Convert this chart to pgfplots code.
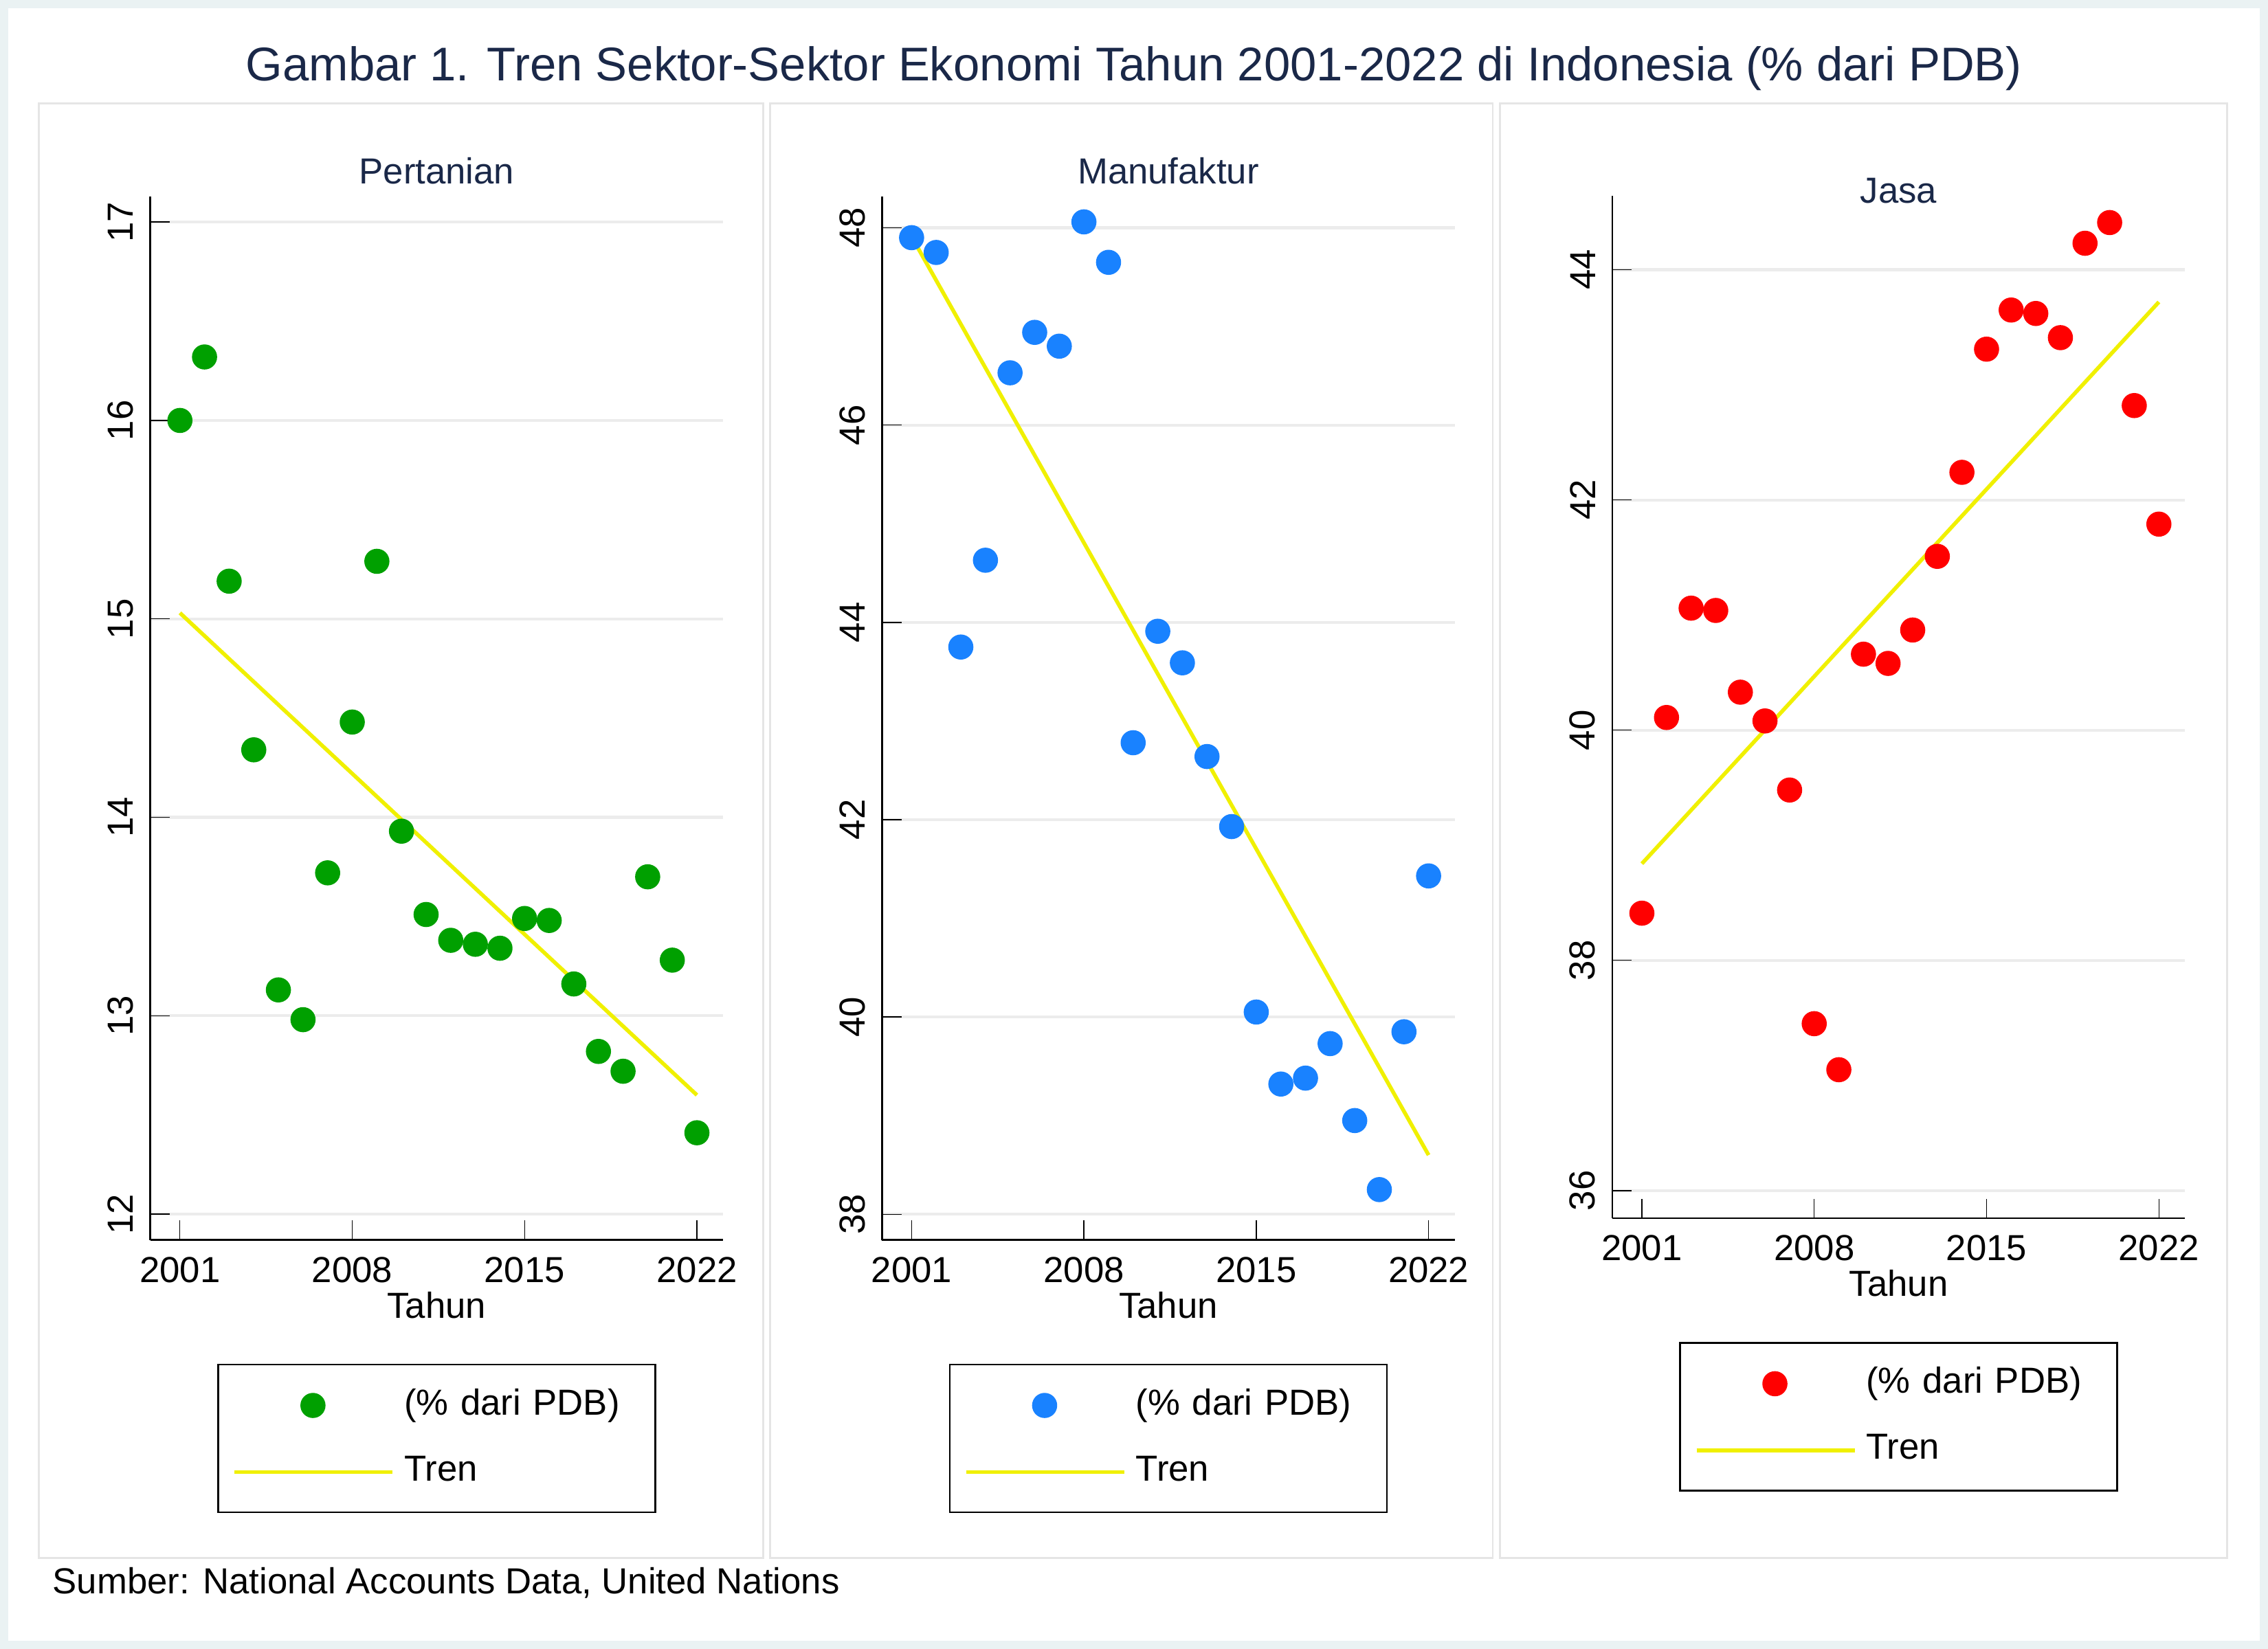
\documentclass[border=0pt]{standalone}
\usepackage{pgfplots}
\pgfplotsset{compat=1.18}
\usepackage{fontspec}
\setmainfont{Liberation Sans}
\definecolor{bg}{RGB}{234,242,243}
\definecolor{navy}{RGB}{26,40,72}
\definecolor{pg}{RGB}{0,160,0}
\definecolor{pb}{RGB}{25,130,255}
\definecolor{pr}{RGB}{255,0,0}
\definecolor{ty}{RGB}{240,240,0}
\pgfplotsset{
 myax/.style={scale only axis,width=4.166cm,
  axis x line*=bottom, axis y line*=left,
  xmin=1999.8,xmax=2023.06,xtick={2001,2008,2015,2022},
  x tick label style={/pgf/number format/1000 sep={}},
  yticklabel style={rotate=90,anchor=south,/pgf/number format/fixed},
  ymajorgrids, grid style={gray!15,line width=0.6pt},
  tick style={black}, major tick length=4pt,
  tick label style={font=\fontsize{7.5}{9}\selectfont},
  /pgf/number format/assume math mode=true,
  xlabel={Tahun}, xlabel style={font=\fontsize{7.5}{9}\selectfont,yshift=5pt},
  title style={font=\fontsize{7.5}{9}\selectfont,text=navy,yshift=-7pt},
  legend style={at={(0.5,0)},anchor=north,yshift=-0.9cm,draw=black,fill=white,
   font=\fontsize{7.5}{9}\selectfont,inner xsep=3pt,inner ysep=3pt,row sep=3pt,
   nodes={text width=1.65cm,align=left}},
  legend cell align=left,
  legend image code/.code={\draw[##1,line width=0.8pt] (0cm,0cm)--(1.15cm,0cm);},
 },
 dots/.style={only marks,mark=*,mark size=2.4pt,color=#1,mark options={draw=#1,fill=#1},
  legend image code/.code={\path (0cm,0cm) (1.15cm,0cm); \fill[#1] (0.57cm,0cm) circle (2.4pt);}},
 trend/.style={ty,line width=0.8pt,no marks}
}
\begin{document}
\begin{tikzpicture}
\fill[bg] (0,0) rectangle (16.5,12);
\fill[white] (0.06,0.06) rectangle (16.44,11.94);
\foreach \a/\b in {27/528,533/1033,1038/1541}{
 \draw[gray!20] (\a*0.01052,{(1140-70)*0.01052}) rectangle (\b*0.01052,{(1140-1077)*0.01052});}
\node[text=navy,font=\fontsize{9.8}{12}\selectfont] at (8.25,{(1140-46)*0.01052}) {Gambar 1. Tren Sektor-Sektor Ekonomi Tahun 2001-2022 di Indonesia (\% dari PDB)};
\node[anchor=west,font=\fontsize{7.5}{9}\selectfont] at (0.26,{(1140-1094)*0.01052}) {Sumber: National Accounts Data, United Nations};

\begin{axis}[myax,at={(1.094cm,2.977cm)},height=7.595cm,ymin=11.87,ymax=17.13,ytick={12,13,14,15,16,17},title={Pertanian}]
\addplot[dots=pg] coordinates {(2001,16.0)(2002,16.32)(2003,15.19)(2004,14.34)(2005,13.13)(2006,12.98)(2007,13.72)(2008,14.48)(2009,15.29)(2010,13.93)(2011,13.51)(2012,13.38)(2013,13.36)(2014,13.34)(2015,13.49)(2016,13.48)(2017,13.16)(2018,12.82)(2019,12.72)(2020,13.70)(2021,13.28)(2022,12.41)};
\addlegendentry{(\% dari PDB)}
\addplot[trend] coordinates {(2001,15.03)(2022,12.6)};
\addlegendentry{Tren}
\end{axis}

\begin{axis}[myax,at={(6.417cm,2.977cm)},height=7.595cm,ymin=37.74,ymax=48.32,ytick={38,40,42,44,46,48},title={Manufaktur}]
\addplot[dots=pb] coordinates {(2001,47.90)(2002,47.75)(2003,43.75)(2004,44.63)(2005,46.53)(2006,46.94)(2007,46.80)(2008,48.06)(2009,47.65)(2010,42.78)(2011,43.91)(2012,43.59)(2013,42.64)(2014,41.93)(2015,40.05)(2016,39.32)(2017,39.38)(2018,39.73)(2019,38.95)(2020,38.25)(2021,39.85)(2022,41.43)};
\addlegendentry{(\% dari PDB)}
\addplot[trend] coordinates {(2001,47.91)(2022,38.6)};
\addlegendentry{Tren}
\end{axis}

\begin{axis}[myax,at={(11.73cm,3.135cm)},height=7.438cm,ymin=35.76,ymax=44.64,ytick={36,38,40,42,44},title={Jasa},title style={yshift=-4pt}]
\addplot[dots=pr] coordinates {(2001,38.41)(2002,40.11)(2003,41.06)(2004,41.04)(2005,40.33)(2006,40.08)(2007,39.48)(2008,37.45)(2009,37.05)(2010,40.66)(2011,40.58)(2012,40.87)(2013,41.51)(2014,42.24)(2015,43.31)(2016,43.65)(2017,43.62)(2018,43.41)(2019,44.23)(2020,44.41)(2021,42.82)(2022,41.79)};
\addlegendentry{(\% dari PDB)}
\addplot[trend] coordinates {(2001,38.84)(2022,43.72)};
\addlegendentry{Tren}
\end{axis}
\end{tikzpicture}
\end{document}
